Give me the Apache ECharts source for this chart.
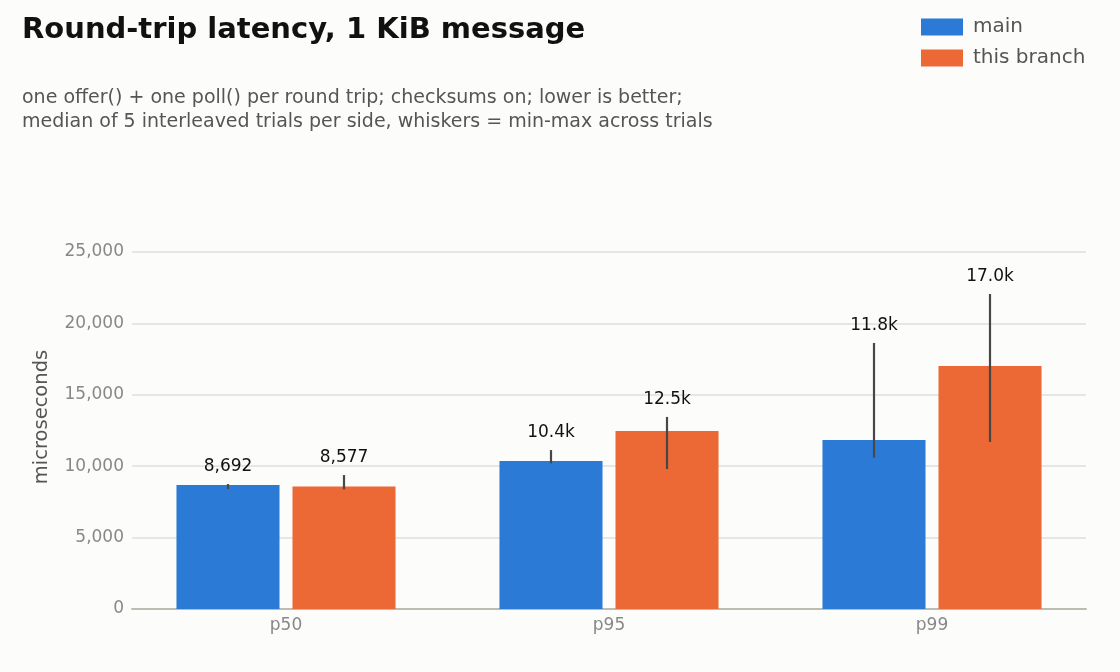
<!DOCTYPE html>
<html>
<head>
<meta charset="utf-8">
<script src="https://cdn.jsdelivr.net/npm/echarts@6/dist/echarts.min.js"></script>
<style>
html,body{margin:0;padding:0;background:#fcfcfa;}
#chart{width:1120px;height:672px;}
</style>
</head>
<body>
<div id="chart"></div>
<script>
const categories = ['p50', 'p95', 'p99'];
const seriesNames = ['main', 'this branch'];
const mainMedian = [8692, 10364, 11835];
const mainMin = [8400, 10200, 10600];
const mainMax = [8750, 11130, 18630];
const branchMedian = [8577, 12465, 17017];
const branchMin = [8380, 9800, 11700];
const branchMax = [9380, 13450, 22060];
const yTicks = [0, 5000, 10000, 15000, 20000, 25000];

const FONT = 'DejaVu Sans';
const BAR_W = 0.319;
const BAR_GAP = 0.126;

function fmt(v) {
  return v < 10000 ? Math.round(v).toLocaleString('en-US') : (v / 1000).toFixed(1) + 'k';
}

function whiskerData(mins, maxs, meds) {
  return categories.map((c, i) => [i, mins[i], maxs[i], meds[i]]);
}

function renderWhisker(sign) {
  return function (params, api) {
    const i = api.value(0);
    const lo = api.coord([i, api.value(1)]);
    const hi = api.coord([i, api.value(2)]);
    const band = api.size([1, 0])[0];
    const w = band * BAR_W;
    const dx = sign * (w + w * BAR_GAP) / 2;
    const x = Math.round(lo[0] + dx);
    return {
      type: 'group',
      children: [
        {
          type: 'line',
          shape: { x1: x, y1: lo[1], x2: x, y2: hi[1] },
          style: { stroke: '#474747', lineWidth: 2.2 }
        },
        {
          type: 'text',
          x: x,
          y: hi[1] - 17,
          style: {
            text: fmt(api.value(3)),
            align: 'center',
            verticalAlign: 'middle',
            textAlign: 'center',
            textVerticalAlign: 'middle',
            fontSize: 17,
            fontFamily: FONT,
            fill: '#111'
          }
        }
      ]
    };
  };
}

const chart = echarts.init(document.getElementById('chart'));
chart.setOption({
  backgroundColor: '#fcfcfa',
  animation: false,
  textStyle: { fontFamily: FONT },
  title: [
    {
      text: 'Round-trip latency, 1 KiB message',
      left: 17, top: 11,
      textStyle: { fontSize: 29, fontWeight: 'bold', color: '#111', fontFamily: FONT }
    },
    {
      text: 'one offer() + one poll() per round trip; checksums on; lower is better;\nmedian of 5 interleaved trials per side, whiskers = min-max across trials',
      left: 17, top: 81,
      textStyle: { fontSize: 19, fontWeight: 'normal', color: '#555', lineHeight: 24, fontFamily: FONT }
    }
  ],
  legend: {
    orient: 'vertical',
    left: 916, top: 12,
    itemWidth: 47, itemHeight: 17, itemGap: 11,
    icon: 'path://M0,0L42,0L42,17L0,17Z M47,0L47,0.001',
    data: seriesNames,
    textStyle: { fontSize: 20, color: '#555', fontFamily: FONT }
  },
  grid: [
    { left: 132, right: 34, top: 252, bottom: 63 },
    { left: 124.5, right: 26.5, top: 252, bottom: 63 }
  ],
  xAxis: [
    {
      type: 'category', gridIndex: 0, data: categories,
      axisLine: { show: true, lineStyle: { color: '#bdbcb3', width: 2 } },
      axisTick: { show: false }, axisLabel: { show: false }, splitLine: { show: false }
    },
    {
      type: 'category', gridIndex: 1, data: categories,
      axisLine: { show: false }, axisTick: { show: false },
      axisLabel: { fontSize: 17, color: '#888', margin: 8, fontFamily: FONT }
    }
  ],
  yAxis: [
    {
      type: 'value', gridIndex: 0, min: yTicks[0], max: yTicks[yTicks.length - 1], interval: 5000,
      name: 'microseconds', nameLocation: 'middle', nameGap: 80,
      nameTextStyle: { fontSize: 19.5, color: '#555', fontFamily: FONT, padding: [0, 0, 0, 27] },
      axisLine: { show: false }, axisTick: { show: false },
      axisLabel: { fontSize: 17, color: '#888', margin: 8, fontFamily: FONT,
        formatter: v => v.toLocaleString('en-US') },
      splitLine: { lineStyle: { color: '#e0e0da', width: 1.5 } }
    },
    {
      type: 'value', gridIndex: 1, min: yTicks[0], max: yTicks[yTicks.length - 1], interval: 5000,
      show: false, splitLine: { show: false }
    }
  ],
  series: [
    {
      name: seriesNames[0], type: 'bar', xAxisIndex: 1, yAxisIndex: 1,
      data: mainMedian, barWidth: (BAR_W * 100) + '%', barGap: (BAR_GAP * 100) + '%',
      itemStyle: { color: '#2a7ad6' }, z: 2
    },
    {
      name: seriesNames[1], type: 'bar', xAxisIndex: 1, yAxisIndex: 1,
      data: branchMedian, barWidth: (BAR_W * 100) + '%', barGap: (BAR_GAP * 100) + '%',
      itemStyle: { color: '#ec6835' }, z: 2
    },
    {
      type: 'custom', xAxisIndex: 1, yAxisIndex: 1, z: 5,
      renderItem: renderWhisker(-1),
      data: whiskerData(mainMin, mainMax, mainMedian),
      encode: { x: 0, y: [1, 2] }
    },
    {
      type: 'custom', xAxisIndex: 1, yAxisIndex: 1, z: 5,
      renderItem: renderWhisker(1),
      data: whiskerData(branchMin, branchMax, branchMedian),
      encode: { x: 0, y: [1, 2] }
    }
  ]
});
</script>
</body>
</html>
